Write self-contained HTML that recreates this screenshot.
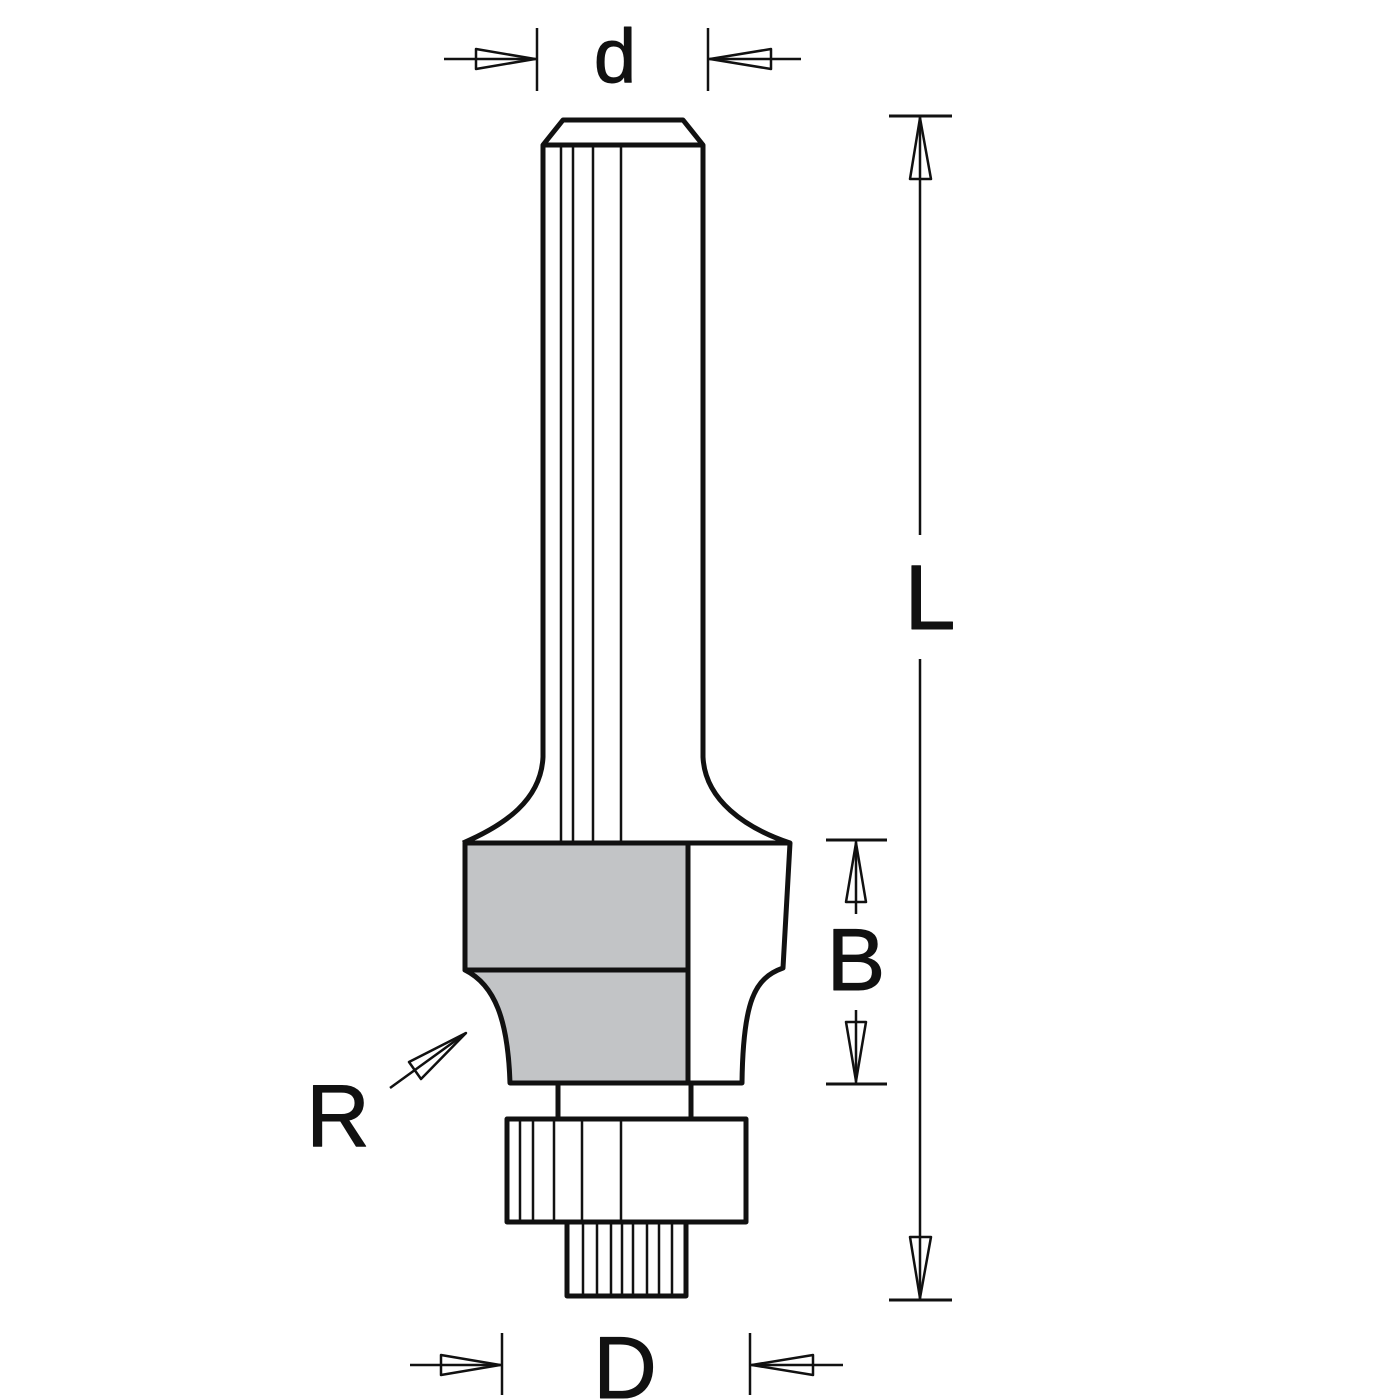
<!DOCTYPE html>
<html><head><style>html,body{margin:0;padding:0;background:#fff}svg{display:block}</style></head>
<body>
<svg width="1400" height="1400" viewBox="0 0 1400 1400" xmlns="http://www.w3.org/2000/svg">
<g fill="none" stroke="#111" stroke-linejoin="round">
<!-- shank -->
<path d="M543 145 L563 120 L683 120 L703 145 Z" stroke-width="5"/>
<path d="M543 145 L543 757 C541 800 505 825 463 843 M703 145 L703 757 C705 800 745 828 790 843" stroke-width="5"/>
<g stroke-width="2.5"><line x1="561" y1="145" x2="561" y2="843"/><line x1="573" y1="145" x2="573" y2="843"/><line x1="593" y1="145" x2="593" y2="843"/><line x1="621" y1="145" x2="621" y2="843"/></g>
<!-- cutter -->
<path d="M465 970 L465 843 L688 843 L688 970 Z" fill="#c2c4c6" stroke-width="5"/>
<path d="M465 970 C495 985 508 1020 510 1083 L688 1083 L688 970 Z" fill="#c2c4c6" stroke-width="5"/>
<path d="M688 843 L790 843 L783 968 C755 978 743 1000 742 1083 L688 1083" stroke-width="5"/>
<!-- stem -->
<line x1="558" y1="1083" x2="558" y2="1117" stroke-width="5"/><line x1="691" y1="1083" x2="691" y2="1117" stroke-width="5"/>
<!-- bearing -->
<rect x="507" y="1119" width="239" height="103" stroke-width="5"/>
<g stroke-width="2.5"><line x1="520" y1="1119" x2="520" y2="1222"/><line x1="533" y1="1119" x2="533" y2="1222"/><line x1="554" y1="1119" x2="554" y2="1222"/><line x1="582" y1="1119" x2="582" y2="1222"/><line x1="621" y1="1119" x2="621" y2="1222"/></g>
<rect x="567" y="1222" width="119" height="74" stroke-width="5"/>
<g stroke-width="2.5"><line x1="583" y1="1222" x2="583" y2="1296"/><line x1="597" y1="1222" x2="597" y2="1296"/><line x1="611" y1="1222" x2="611" y2="1296"/><line x1="622" y1="1222" x2="622" y2="1296"/><line x1="633" y1="1222" x2="633" y2="1296"/><line x1="647" y1="1222" x2="647" y2="1296"/><line x1="659" y1="1222" x2="659" y2="1296"/><line x1="672" y1="1222" x2="672" y2="1296"/></g>
<!-- d dims -->
<g stroke-width="2.5">
<line x1="537" y1="28" x2="537" y2="91"/><line x1="708" y1="28" x2="708" y2="91"/>
<line x1="444" y1="59" x2="537" y2="59"/><line x1="708" y1="59" x2="801" y2="59"/>
<path d="M476 49 L476 69 L535 59 Z"/><path d="M771 49 L771 69 L710 59 Z"/>
<!-- D dims -->
<line x1="502" y1="1333" x2="502" y2="1395"/><line x1="750" y1="1333" x2="750" y2="1395"/>
<line x1="410" y1="1365" x2="502" y2="1365"/><line x1="750" y1="1365" x2="843" y2="1365"/>
<path d="M441 1355 L441 1375 L500 1365 Z"/><path d="M813 1355 L813 1375 L752 1365 Z"/>
<!-- L -->
<line x1="889" y1="116" x2="952" y2="116" stroke-width="3"/><line x1="889" y1="1300" x2="952" y2="1300" stroke-width="3"/>
<line x1="920" y1="116" x2="920" y2="535"/><line x1="920" y1="659" x2="920" y2="1300"/>
<path d="M920 118 L910 179 L931 179 Z"/><path d="M920 1298 L910 1237 L931 1237 Z"/>
<!-- B -->
<line x1="826" y1="840" x2="887" y2="840" stroke-width="3"/><line x1="826" y1="1084" x2="887" y2="1084" stroke-width="3"/>
<line x1="856" y1="840" x2="856" y2="914"/><line x1="856" y1="1010" x2="856" y2="1084"/>
<path d="M856 843 L846 902 L866 902 Z"/><path d="M856 1081 L846 1022 L866 1022 Z"/>
<!-- R -->
<line x1="390" y1="1088" x2="466" y2="1033"/>
<path d="M466 1033 L409 1062 L421 1079 Z"/>
</g>
<g font-family="Liberation Sans, sans-serif" fill="#111" text-anchor="middle">
<text x="615" y="82" font-size="76">d</text>
<text x="930" y="629" font-size="92">L</text>
<text x="856" y="990" font-size="88">B</text>
<text x="338" y="1146" font-size="88">R</text>
<text x="625" y="1398" font-size="88">D</text>
</g>
</svg>
</body></html>
